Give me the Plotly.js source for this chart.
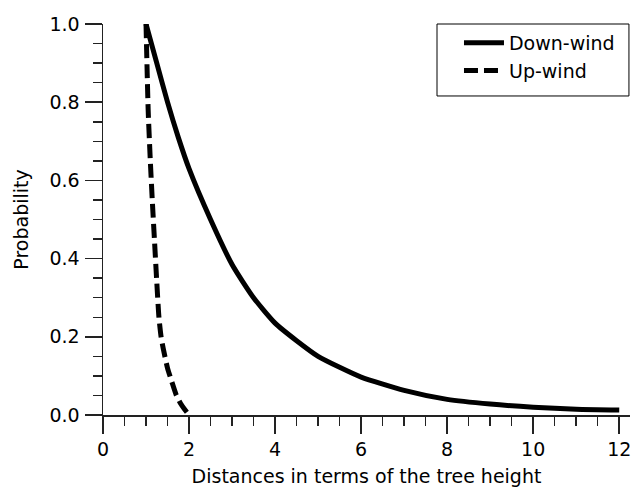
<!DOCTYPE html>
<html>
<head>
<meta charset="utf-8">
<script src="https://cdn.plot.ly/plotly-3.0.1.min.js"></script>
<style>html,body{margin:0;padding:0;background:#fff;}#chart{width:632px;height:487px;}</style>
</head>
<body>
<div id="chart"></div>
<script>
var downX = [1, 1.25, 1.5, 1.75, 2, 2.5, 3, 3.5, 4, 4.5, 5, 5.5, 6, 7, 8, 9, 10, 11, 12];
var downY = [1.0, 0.90, 0.80, 0.71, 0.63, 0.50, 0.385, 0.30, 0.235, 0.19, 0.15, 0.122, 0.097, 0.063, 0.040, 0.028, 0.020, 0.015, 0.013];
var upX = [1.0, 1.05, 1.1, 1.15, 1.2, 1.25, 1.3, 1.35, 1.4, 1.5, 1.6, 1.7, 1.8, 1.9, 2.0];
var upY = [1.0, 0.78, 0.65, 0.54, 0.44, 0.34, 0.25, 0.20, 0.17, 0.12, 0.085, 0.052, 0.03, 0.014, 0.0];
var seriesNames = ["Down-wind", "Up-wind"];
var xTitle = "Distances in terms of the tree height";
var yTitle = "Probability";

var FONT = "'DejaVu Sans', sans-serif";
var FS = 19;
var traces = [
  {x: downX, y: downY, name: seriesNames[0], mode: "lines", line: {color: "#000", width: 5, shape: "spline", smoothing: 0.6}},
  {x: upX, y: upY, name: seriesNames[1], mode: "lines", line: {color: "#000", width: 5, dash: "14px,6px", shape: "spline", smoothing: 0.6}}
];
var layout = {
  width: 632, height: 487,
  margin: {l: 103, r: 2, t: 24, b: 72},
  paper_bgcolor: "#fff", plot_bgcolor: "#fff",
  font: {family: FONT, size: FS, color: "#000"},
  showlegend: true,
  legend: {x: 0.981, y: 1, xanchor: "right", yanchor: "top", borderwidth: 0, bgcolor: "rgba(0,0,0,0)",
           font: {family: FONT, size: FS}, itemwidth: 40, tracegroupgap: 0},
  shapes: [{type: "rect", xref: "paper", yref: "paper", x0: 0.6338, x1: 0.998, y0: 0.8159, y1: 1.0,
            line: {color: "#000", width: 1}, fillcolor: "rgba(0,0,0,0)"}],
  xaxis: {
    range: [0, 12.25], showgrid: false, zeroline: false, showline: true, linecolor: "#222", linewidth: 1.5,
    ticks: "outside", ticklen: 17, tickwidth: 1.5, tickcolor: "#222", dtick: 2, tick0: 0,
    tickfont: {family: FONT, size: FS},
    minor: {dtick: 0.5, ticks: "outside", ticklen: 9, tickwidth: 1.5, tickcolor: "#222"},
    title: {text: xTitle, font: {family: FONT, size: FS}, standoff: 13}
  },
  yaxis: {
    range: [0, 1.0], showgrid: false, zeroline: false, showline: true, linecolor: "#222", linewidth: 1.5,
    ticks: "outside", ticklen: 17, tickwidth: 1.5, tickcolor: "#222", dtick: 0.2, tick0: 0, tickformat: ".1f",
    tickfont: {family: FONT, size: FS}, ticklabelstandoff: 1,
    minor: {dtick: 0.05, ticks: "outside", ticklen: 9, tickwidth: 1.5, tickcolor: "#222"},
    title: {text: yTitle, font: {family: FONT, size: FS}, standoff: 16}
  }
};
Plotly.newPlot("chart", traces, layout, {displayModeBar: false, staticPlot: true});
</script>
</body>
</html>
